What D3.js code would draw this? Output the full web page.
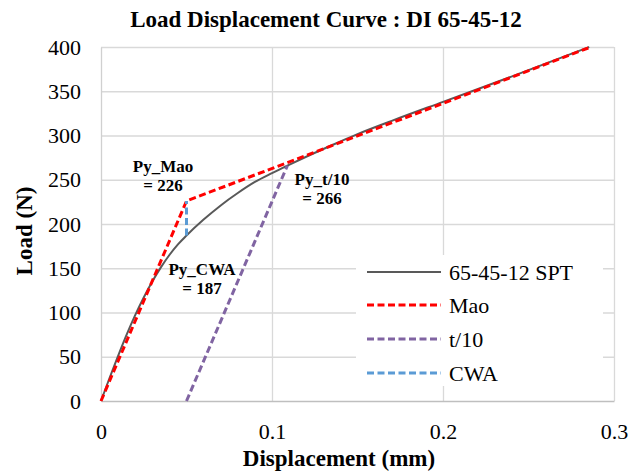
<!DOCTYPE html>
<html>
<head>
<meta charset="utf-8">
<script src="https://cdn.jsdelivr.net/npm/d3@7/dist/d3.min.js"></script>
<style>
  html, body { margin: 0; padding: 0; background: #fff; }
  svg { display: block; font-family: "Liberation Serif", "Times New Roman", serif; }
</style>
</head>
<body>
<svg id="chart" width="630" height="471"></svg>
<script>
// Measured load–displacement curve of the DI 65-45-12 specimen
const sptDisp = [0, 0.005, 0.010, 0.015, 0.020, 0.025, 0.030, 0.035, 0.040, 0.045, 0.050,
                 0.060, 0.070, 0.080, 0.090, 0.100, 0.109, 0.120, 0.135, 0.150, 0.170,
                 0.200, 0.240, 0.2855];
const sptLoad = [0, 26, 51, 75, 97, 117, 135, 151, 165, 177, 187,
                 205, 221, 235, 247.5, 257.5, 266, 276, 289, 301.5, 316.5,
                 338, 366.5, 400];

// Yield-load constructions
const maoDisp = [0, 0.05, 0.2865];
const maoLoad = [0, 226, 400];
const t10Disp = [0.05, 0.109];
const t10Load = [0, 266];
const cwaDisp = [0.05, 0.05];
const cwaLoad = [187, 226];

// Axis ticks
const xTicks = [0, 0.1, 0.2, 0.3];
const yTicks = [0, 50, 100, 150, 200, 250, 300, 350, 400];

// Legend entries
const legendNames = ["65-45-12 SPT", "Mao", "t/10", "CWA"];
const legendColors = ["#595959", "#ff0000", "#8064a2", "#5b9bd5"];
const legendDash = [null, "7,3.5", "7,3.5", "7,3.5"];
const legendWidth = [2, 3, 3, 3];

const svg = d3.select("#chart");
const plotL = 101, plotR = 614, plotT = 47, plotB = 401;

const x = d3.scaleLinear().domain([0, 0.3]).range([plotL, plotR]);
const y = d3.scaleLinear().domain([0, 400]).range([plotB, plotT]);

// Gridlines
svg.append("g")
  .attr("transform", `translate(0,${plotB})`)
  .call(d3.axisBottom(x).tickValues(xTicks.slice(1)).tickSize(-(plotB - plotT)).tickFormat(""))
  .call(g => g.select(".domain").remove())
  .call(g => g.selectAll("line").attr("stroke", "#d9d9d9").attr("stroke-width", 1.3));
svg.append("g")
  .attr("transform", `translate(${plotL},0)`)
  .call(d3.axisLeft(y).tickValues(yTicks.slice(1)).tickSize(-(plotR - plotL)).tickFormat(""))
  .call(g => g.select(".domain").remove())
  .call(g => g.selectAll("line").attr("stroke", "#d9d9d9").attr("stroke-width", 1.3));

// Axes
const xAxis = svg.append("g")
  .attr("transform", `translate(0,${plotB})`)
  .call(d3.axisBottom(x).tickValues(xTicks).tickSize(0).tickPadding(22).tickFormat(d3.format("")));
xAxis.select(".domain").attr("stroke", "#bfbfbf").attr("stroke-width", 1.5);
xAxis.selectAll("text").attr("font-size", 22).attr("fill", "#000")
  .attr("font-family", "Liberation Serif");

const yAxis = svg.append("g")
  .attr("transform", `translate(${plotL},0)`)
  .call(d3.axisLeft(y).tickValues(yTicks).tickSize(0).tickPadding(20));
yAxis.select(".domain").attr("stroke", "#d0d0d0").attr("stroke-width", 1.3);
yAxis.selectAll("text").attr("font-size", 22).attr("fill", "#000")
  .attr("font-family", "Liberation Serif");

// Series
const zip = (a, b) => a.map((v, i) => [v, b[i]]);
const smooth = d3.line().x(d => x(d[0])).y(d => y(d[1])).curve(d3.curveMonotoneX);
const straight = d3.line().x(d => x(d[0])).y(d => y(d[1]));

svg.append("path")
  .datum(zip(sptDisp, sptLoad))
  .attr("d", smooth)
  .attr("fill", "none").attr("stroke", legendColors[0]).attr("stroke-width", 2);

[[maoDisp, maoLoad, 1], [t10Disp, t10Load, 2], [cwaDisp, cwaLoad, 3]].forEach(([dx, dy, i]) => {
  svg.append("path")
    .datum(zip(dx, dy))
    .attr("d", straight)
    .attr("fill", "none")
    .attr("stroke", legendColors[i])
    .attr("stroke-width", legendWidth[i])
    .attr("stroke-dasharray", legendDash[i]);
});

// Yield-point annotations
const notes = [
  { lines: ["Py_Mao", "= " + maoLoad[1]], cx: 163, by: 172 },
  { lines: ["Py_CWA", "= " + cwaLoad[0]], cx: 202, by: 275 },
  { lines: ["Py_t/10", "= " + t10Load[1]], cx: 322, by: 185 }
];
notes.forEach(n => {
  n.lines.forEach((t, k) => {
    svg.append("text")
      .attr("x", n.cx).attr("y", n.by + k * 19)
      .attr("text-anchor", "middle")
      .attr("font-size", 17).attr("font-weight", "bold")
      .text(t);
  });
});

// Legend
svg.append("rect")
  .attr("x", 356).attr("y", 255).attr("width", 247).attr("height", 131)
  .attr("fill", "#fff");
const legRows = [272, 305, 339, 373];
legendNames.forEach((name, i) => {
  svg.append("line")
    .attr("x1", 367).attr("x2", 441)
    .attr("y1", legRows[i]).attr("y2", legRows[i])
    .attr("stroke", legendColors[i])
    .attr("stroke-width", legendWidth[i])
    .attr("stroke-dasharray", legendDash[i]);
  svg.append("text")
    .attr("x", 449).attr("y", legRows[i] + 8)
    .attr("font-size", 22)
    .text(name);
});

// Titles
svg.append("text")
  .attr("x", 326).attr("y", 27)
  .attr("text-anchor", "middle")
  .attr("font-size", 23).attr("font-weight", "bold")
  .text("Load Displacement Curve : DI 65-45-12");

svg.append("text")
  .attr("x", 339).attr("y", 466)
  .attr("text-anchor", "middle")
  .attr("font-size", 23).attr("font-weight", "bold")
  .text("Displacement (mm)");

svg.append("text")
  .attr("transform", "translate(32,231) rotate(-90)")
  .attr("text-anchor", "middle")
  .attr("font-size", 23).attr("font-weight", "bold")
  .text("Load (N)");
</script>
</body>
</html>
